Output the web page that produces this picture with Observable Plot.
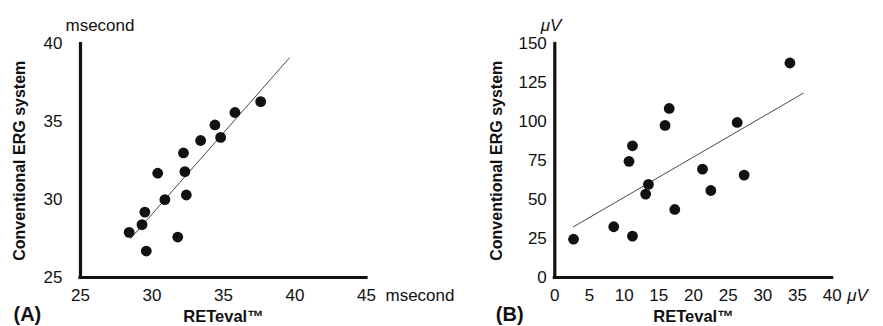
<!DOCTYPE html>
<html>
<head>
<meta charset="utf-8">
<script src="https://cdn.jsdelivr.net/npm/d3@7"></script>
<script src="https://cdn.jsdelivr.net/npm/@observablehq/plot@0.6"></script>
<style>
  html, body { margin: 0; padding: 0; background: #fff; }
  #wrap { position: relative; width: 883px; height: 326px; overflow: hidden; }
  #wrap svg { position: absolute; top: 0; overflow: visible; font-family: "Liberation Sans", Arial, sans-serif; }
</style>
</head>
<body>
<div id="wrap"></div>
<script>
// Panel A: latency (msecond)
const aRet = [28.4, 29.3, 29.5, 29.6, 30.4, 30.9, 31.8, 32.2, 32.3, 32.4, 33.4, 34.4, 34.8, 35.8, 37.6];
const aErg = [27.9, 28.4, 29.2, 26.7, 31.7, 30.0, 27.6, 33.0, 31.8, 30.3, 33.8, 34.8, 34.0, 35.6, 36.3];
const aFitX = [28.5, 39.6];
const aFitY = [27.5, 39.1];
const aTicks = [25, 30, 35, 40, 45];
const aYTicks = [25, 30, 35, 40];

// Panel B: amplitude (µV)
const bRet = [2.7, 8.5, 11.2, 10.7, 11.2, 13.1, 13.5, 15.9, 16.5, 17.3, 21.3, 22.5, 26.3, 27.3, 33.9];
const bErg = [24.6, 32.6, 26.6, 74.6, 84.6, 53.6, 59.8, 97.7, 108.6, 43.7, 69.6, 55.9, 99.6, 65.8, 137.8];
const bFitX = [2.7, 35.8];
const bFitY = [32.6, 118.3];
const bTicks = [0, 5, 10, 15, 20, 25, 30, 35, 40];
const bYTicks = [0, 25, 50, 75, 100, 125, 150];

const yTitle = "Conventional ERG system";
const xTitle = "RETeval™";

function panel(cfg) {
  const pts = cfg.xs.map((x, i) => ({x, y: cfg.ys[i]}));
  const fit = cfg.fitX.map((x, i) => ({x, y: cfg.fitY[i]}));
  const [x0, x1] = cfg.xDomain, [y0, y1] = cfg.yDomain;
  const unitStyle = cfg.unitItalic ? "italic" : "normal";
  return Plot.plot({
    width: cfg.width,
    height: 326,
    marginLeft: cfg.ml, marginRight: cfg.mr, marginTop: 43.5, marginBottom: 49,
    style: {fontFamily: "'Liberation Sans', Arial, sans-serif", fontSize: "17px", color: "#111", background: "transparent", overflow: "visible"},
    x: {domain: cfg.xDomain, ticks: cfg.xTicks},
    y: {domain: cfg.yDomain, ticks: cfg.yTicks},
    marks: [
      Plot.axisX({ticks: cfg.xTicks, tickSize: 0, tickPadding: 11, label: null, fontSize: 17}),
      Plot.axisY({ticks: cfg.yTicks, tickSize: 0, tickPadding: cfg.yPad, label: null, fontSize: 17}),
      Plot.ruleY([y0], {x1: x0, x2: x1, stroke: "#111", strokeWidth: 3.2, strokeLinecap: "square"}),
      Plot.ruleX([x0], {y1: y0, y2: y1, stroke: "#111", strokeWidth: 3.2, strokeLinecap: "square"}),
      Plot.line(fit, {x: "x", y: "y", stroke: "#333", strokeWidth: 0.9}),
      Plot.dot(pts, {x: "x", y: "y", r: 5.4, fill: "#111", stroke: "none"}),
      Plot.text([yTitle], {frameAnchor: "left", textAnchor: "middle", lineAnchor: "middle", rotate: -90, dx: cfg.yTitleDx, fontWeight: "bold", fontSize: 16, fill: "#111"}),
      Plot.text([xTitle], {frameAnchor: "bottom", lineAnchor: "middle", dy: 39.5, fontWeight: "bold", fontSize: 16.5, fill: "#111"}),
      Plot.text([cfg.unit], {frameAnchor: "top-left", textAnchor: "start", lineAnchor: "middle", dx: cfg.unitTopDx, dy: -18, fontSize: 17, fontStyle: unitStyle, fill: "#111"}),
      Plot.text([cfg.unit], {frameAnchor: "bottom-right", textAnchor: "start", lineAnchor: "middle", dx: cfg.unitRightDx, dy: 18, fontSize: 17, fontStyle: unitStyle, fill: "#111"}),
      Plot.text([cfg.tag], {frameAnchor: "bottom-left", textAnchor: "start", lineAnchor: "middle", dx: cfg.tagDx, dy: 37.5, fontWeight: "bold", fontSize: 20, fill: "#111"})
    ]
  });
}

const wrap = document.getElementById("wrap");

const pA = panel({
  width: 441, ml: 80, mr: 75,
  xs: aRet, ys: aErg, fitX: aFitX, fitY: aFitY,
  xDomain: [25, 45], yDomain: [25, 40], xTicks: aTicks, yTicks: aYTicks,
  yPad: 18, yTitleDx: -61, unit: "msecond", unitItalic: false,
  unitTopDx: -15, unitRightDx: 19, tag: "(A)", tagDx: -67
});
pA.style.left = "0px";
wrap.appendChild(pA);

const pB = panel({
  width: 442, ml: 113.3, mr: 51.3,
  xs: bRet, ys: bErg, fitX: bFitX, fitY: bFitY,
  xDomain: [0, 40], yDomain: [0, 150], xTicks: bTicks, yTicks: bYTicks,
  yPad: 8, yTitleDx: -57.6, unit: "μV", unitItalic: true,
  unitTopDx: -14, unitRightDx: 15, tag: "(B)", tagDx: -59
});
pB.style.left = "441px";
wrap.appendChild(pB);
</script>
</body>
</html>
